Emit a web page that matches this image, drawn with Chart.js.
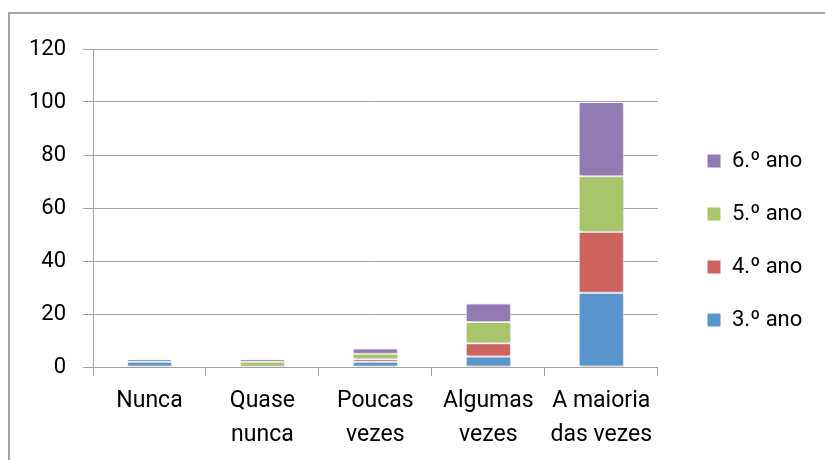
<!DOCTYPE html>
<html>
<head>
<meta charset="utf-8">
<script src="https://cdn.jsdelivr.net/npm/chart.js@4.4.0/dist/chart.umd.min.js"></script>
<style>
  body { margin: 0; background: #fff; }
  #wrap { width: 825px; height: 460px; }
</style>
</head>
<body>
<div id="wrap"><canvas id="grafica" width="825" height="460"></canvas></div>
<script>
// categorias e valores
const categorias = ['Nunca', ['Quase', 'nunca'], ['Poucas', 'vezes'], ['Algumas', 'vezes'], ['A maioria', 'das vezes']];
const ano3 = [2, 0, 2, 4, 28];
const ano4 = [0, 0, 1, 5, 23];
const ano5 = [0, 2, 2, 8, 21];
const ano6 = [1, 1, 2, 7, 28];
const ticksY = [0, 20, 40, 60, 80, 100, 120];

const fonte = 'Roboto, "Noto Sans", sans-serif';
const cinza = '#A3A3A3';

// moldura cinzenta à volta do gráfico
const moldura = {
  id: 'moldura',
  beforeDraw(chart) {
    const ctx = chart.ctx;
    ctx.save();
    ctx.strokeStyle = cinza;
    ctx.lineWidth = 2;
    ctx.strokeRect(9, 13, 900, 500);
    ctx.restore();
  }
};

// sombra leve nas barras, como no Excel
const sombra = {
  id: 'sombra',
  beforeDatasetsDraw(chart) {
    const ctx = chart.ctx;
    ctx.save();
    ctx.shadowColor = 'rgba(0,0,0,0.28)';
    ctx.shadowBlur = 3;
    ctx.shadowOffsetX = 1;
    ctx.shadowOffsetY = 1;
  },
  afterDatasetsDraw(chart) {
    chart.ctx.restore();
  }
};

// empurrar a legenda para o sítio certo
const legendaPos = {
  id: 'legendaPos',
  afterLayout(chart) {
    const lg = chart.legend;
    const pad = lg.options.labels.padding;
    const dx = 707 - pad - lg.left;
    lg.left += dx; lg.right += dx;
    const alto = lg.legendItems.length * (22 + pad);
    const y0 = (lg.top + pad + lg.bottom - alto) / 2;
    const dy = 150 - y0;
    lg.top += dy; lg.bottom += dy;
  }
};

function serie(label, data, cor) {
  return {
    label: label,
    data: data,
    backgroundColor: cor,
    borderColor: '#ffffff',
    borderWidth: 1,
    borderSkipped: false,
    barPercentage: 0.4,
    categoryPercentage: 1
  };
}

const data = {
  labels: categorias,
  datasets: [
    serie('3.º ano', ano3, '#5A94CC'),
    serie('4.º ano', ano4, '#CD635F'),
    serie('5.º ano', ano5, '#A8C56B'),
    serie('6.º ano', ano6, '#927BB3')
  ]
};

const options = {
  responsive: false,
  animation: false,
  layout: { padding: { top: 49, right: 31, bottom: 0, left: 0 } },
  scales: {
    x: {
      stacked: true,
      grid: { display: true, drawOnChartArea: false, offset: true, color: cinza, tickLength: 9 },
      border: { color: cinza },
      ticks: { color: '#000', font: { family: fonte, size: 23, lineHeight: 1.45 }, padding: 9, maxRotation: 0 },
      afterFit(scale) { scale.height = 93; }
    },
    y: {
      stacked: true,
      min: 0,
      max: 120,
      afterBuildTicks(scale) { scale.ticks = ticksY.map(v => ({ value: v })); },
      grid: { color: cinza, tickLength: 10 },
      border: { color: cinza },
      ticks: { color: '#000', font: { family: fonte, size: 22 }, padding: 17 },
      afterFit(scale) { scale.width = 93; }
    }
  },
  plugins: {
    legend: {
      position: 'right',
      reverse: true,
      labels: {
        boxWidth: 14,
        boxHeight: 14,
        padding: 31,
        color: '#000',
        font: { family: fonte, size: 22 }
      }
    },
    tooltip: { enabled: false }
  }
};

new Chart(document.getElementById('grafica'), {
  type: 'bar',
  data: data,
  options: options,
  plugins: [moldura, sombra, legendaPos]
});
</script>
</body>
</html>
